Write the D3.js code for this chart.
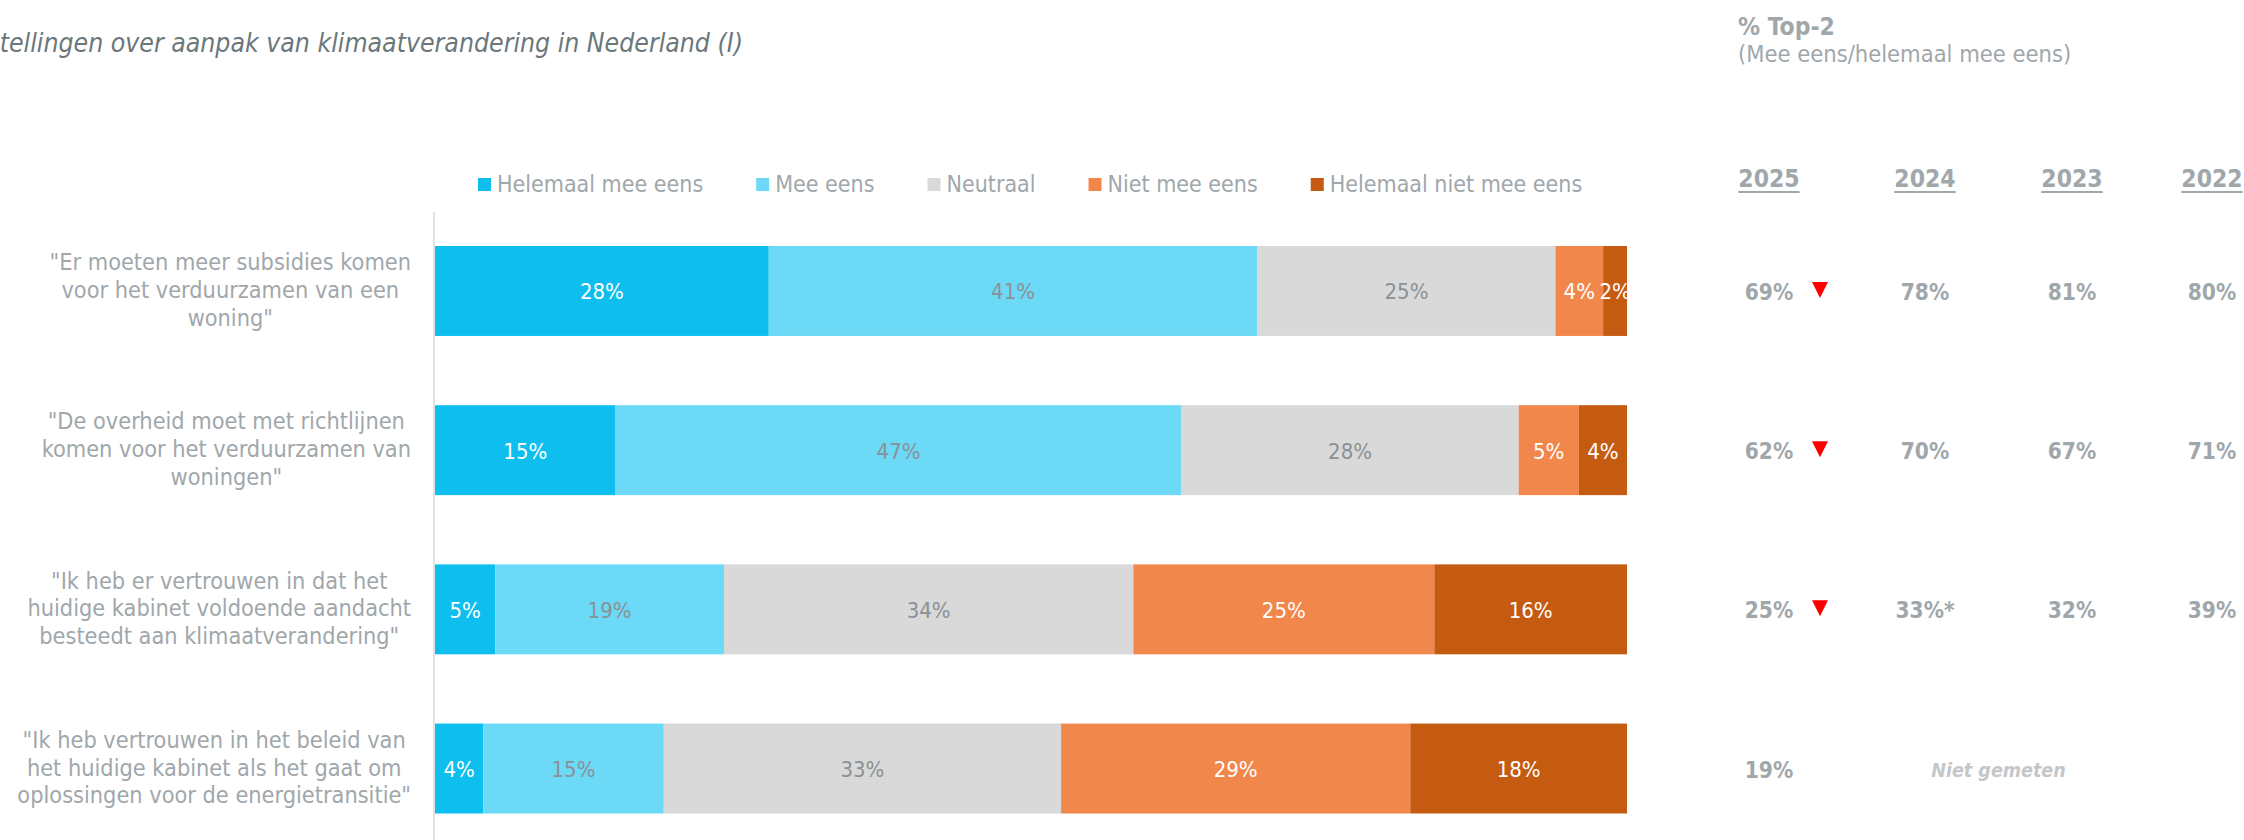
<!DOCTYPE html>
<html>
<head>
<meta charset="utf-8">
<script src="https://cdn.jsdelivr.net/npm/d3@7"></script>
<style>
  html, body { margin: 0; padding: 0; background: #ffffff; }
  svg { display: block; }
  .cond { font-family: "DejaVu Sans Condensed", "DejaVu Sans", sans-serif; font-stretch: condensed; }
  .narrow { font-family: "Liberation Sans Narrow", "Arial Narrow", "DejaVu Sans Condensed", sans-serif; font-stretch: condensed; }
</style>
</head>
<body>
<svg id="chart" width="2244" height="840"></svg>
<script>
// ---------- DATA ----------
const title = "Stellingen over aanpak van klimaatverandering in Nederland (I)";
const statements = [
  ["\"Er moeten meer subsidies komen", "voor het verduurzamen van een", "woning\""],
  ["\"De overheid moet met richtlijnen", "komen voor het verduurzamen van", "woningen\""],
  ["\"Ik heb er vertrouwen in dat het", "huidige kabinet voldoende aandacht", "besteedt aan klimaatverandering\""],
  ["\"Ik heb vertrouwen in het beleid van", "het huidige kabinet als het gaat om", "oplossingen voor de energietransitie\""]
];
const seriesNames = ["Helemaal mee eens", "Mee eens", "Neutraal", "Niet mee eens", "Helemaal niet mee eens"];
const helemaalMeeEens     = [28, 15, 5, 4];
const meeEens             = [41, 47, 19, 15];
const neutraal            = [25, 28, 34, 33];
const nietMeeEens         = [4, 5, 25, 29];
const helemaalNietMeeEens = [2, 4, 16, 18];

const top2Title = "% Top-2";
const top2Subtitle = "(Mee eens/helemaal mee eens)";
const years = ["2025", "2024", "2023", "2022"];
const top2_2025 = ["69%", "62%", "25%", "19%"];
const top2_2024 = ["78%", "70%", "33%*", null];
const top2_2023 = ["81%", "67%", "32%", null];
const top2_2022 = ["80%", "71%", "39%", null];
const significantDrop = [true, true, true, false];
const notMeasuredText = "Niet gemeten";

// ---------- STYLE ----------
const colors = ["#0DBEEF", "#6CD9F7", "#D9D9D9", "#F2874B", "#C55A11"];
const labelColors = ["#ffffff", "#8a9195", "#8a9195", "#ffffff", "#ffffff"];
const greyText = "#a0a7ab";

const svg = d3.select("#chart");

// ---------- TABLE ----------
const seriesValues = [helemaalMeeEens, meeEens, neutraal, nietMeeEens, helemaalNietMeeEens];
const rows = statements.map((s, i) => {
  const r = { key: i };
  seriesNames.forEach((n, j) => r[n] = seriesValues[j][i]);
  return r;
});
const stacked = d3.stack().keys(seriesNames).offset(d3.stackOffsetExpand)(rows);

// ---------- SCALES ----------
const x = d3.scaleLinear().domain([0, 1]).range([435, 1627]);
const y = d3.scaleBand().domain(d3.range(statements.length)).range([246, 813.5])
  .paddingInner(0.435).paddingOuter(0);
const color = d3.scaleOrdinal().domain(seriesNames).range(colors);
const labelColor = d3.scaleOrdinal().domain(seriesNames).range(labelColors);

// ---------- TITLE ----------
svg.append("text")
  .attr("class", "narrow")
  .attr("x", 743).attr("y", 52)
  .attr("text-anchor", "end")
  .style("font-size", "26.4px").style("font-style", "italic")
  .attr("fill", "#6b777b")
  .text(title);

// ---------- LEGEND ----------
const legend = svg.append("g");
let lx = 478;
seriesNames.forEach((n, i) => {
  legend.append("rect").attr("x", lx).attr("y", 178).attr("width", 13).attr("height", 13)
    .attr("fill", color(n));
  const t = legend.append("text").attr("class", "cond")
    .attr("x", lx + 19).attr("y", 192)
    .style("font-size", "23px").attr("fill", greyText).text(n);
  lx += 19 + t.node().getComputedTextLength() + 53;
});

// ---------- AXIS LINE ----------
svg.append("line").attr("x1", 434).attr("x2", 434).attr("y1", 212).attr("y2", 840)
  .attr("stroke", "#e2e2e2").attr("stroke-width", 2);

// ---------- BARS ----------
const layers = svg.append("g").selectAll("g").data(stacked).join("g")
  .attr("fill", d => color(d.key));
layers.selectAll("rect").data(d => d).join("rect")
  .attr("x", d => x(d[0]))
  .attr("y", (d, i) => y(i))
  .attr("width", d => x(d[1]) - x(d[0]))
  .attr("height", y.bandwidth());

const lbl = svg.append("g").selectAll("g").data(stacked).join("g");
lbl.each(function(layer) {
  d3.select(this).selectAll("text").data(layer).join("text")
    .attr("class", "narrow")
    .attr("x", d => (x(d[0]) + x(d[1])) / 2)
    .attr("y", (d, i) => y(i) + y.bandwidth() / 2 + 1)
    .attr("text-anchor", "middle")
    .attr("dominant-baseline", "central")
    .style("font-size", "22px")
    .attr("fill", labelColor(layer.key))
    .text(d => (d.data[layer.key]) + "%");
});

// ---------- STATEMENT LABELS ----------
const rightEdge = 411;
statements.forEach((lines, i) => {
  const g = svg.append("g");
  const cy = y(i) + y.bandwidth() / 2;
  const texts = lines.map((ln, k) => g.append("text").attr("class", "cond")
    .attr("y", cy + 7 + (k - (lines.length - 1) / 2) * 27.7)
    .attr("text-anchor", "middle")
    .style("font-size", "23.3px").attr("fill", greyText).text(ln));
  const maxW = d3.max(texts, t => t.node().getComputedTextLength());
  texts.forEach(t => t.attr("x", rightEdge - maxW / 2));
});

// ---------- TOP-2 PANEL ----------
svg.append("text").attr("class", "cond").attr("x", 1738).attr("y", 35)
  .style("font-size", "24.5px").style("font-weight", "bold").attr("fill", greyText).text(top2Title);
svg.append("text").attr("class", "cond").attr("x", 1738).attr("y", 62)
  .style("font-size", "23.5px").attr("fill", greyText).text(top2Subtitle);

const xYear = d3.scaleOrdinal().domain(years).range([1769, 1925, 2072, 2212]);
const yearValues = [top2_2025, top2_2024, top2_2023, top2_2022];

years.forEach((yr, j) => {
  const t = svg.append("text").attr("class", "cond")
    .attr("x", xYear(yr)).attr("y", 187).attr("text-anchor", "middle")
    .style("font-size", "24.5px").style("font-weight", "bold").attr("fill", greyText).text(yr);
  const w = t.node().getComputedTextLength();
  svg.append("line").attr("x1", xYear(yr) - w / 2).attr("x2", xYear(yr) + w / 2)
    .attr("y1", 192).attr("y2", 192).attr("stroke", greyText).attr("stroke-width", 2);

  yearValues[j].forEach((v, i) => {
    if (v === null) return;
    svg.append("text").attr("class", "cond")
      .attr("x", xYear(yr)).attr("y", y(i) + y.bandwidth() / 2 + 1)
      .attr("text-anchor", "middle").attr("dominant-baseline", "central")
      .style("font-size", "22.5px").style("font-weight", "bold").attr("fill", greyText).text(v);
  });
});

// significance triangles
significantDrop.forEach((s, i) => {
  if (!s) return;
  const cx = 1820, cy = y(i) + y.bandwidth() / 2 - 1;
  svg.append("path")
    .attr("d", `M${cx - 8},${cy - 8}L${cx + 8},${cy - 8}L${cx},${cy + 8}Z`)
    .attr("fill", "#ff0000");
});

// not measured
top2_2024.forEach((v, i) => {
  if (v !== null) return;
  svg.append("text").attr("class", "cond")
    .attr("x", (xYear("2024") + xYear("2023")) / 2).attr("y", y(i) + y.bandwidth() / 2 + 2)
    .attr("text-anchor", "middle").attr("dominant-baseline", "central")
    .style("font-size", "19.5px").style("font-weight", "bold").style("font-style", "italic")
    .attr("fill", "#c4c7c9").text(notMeasuredText);
});
</script>
</body>
</html>
